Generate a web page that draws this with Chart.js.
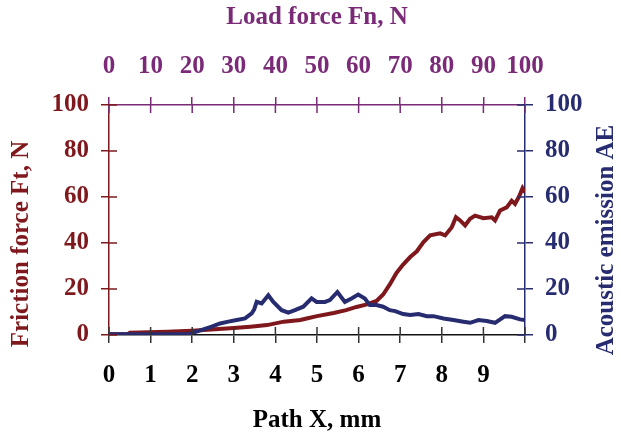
<!DOCTYPE html>
<html lang="en">
<head>
  <meta charset="UTF-8">
  <title>Friction force and acoustic emission</title>
  <script src="https://cdn.jsdelivr.net/npm/chart.js"></script>
  <style>
    html, body { margin: 0; padding: 0; background: #fff; }
    #wrap { width: 621px; height: 439px; }
  </style>
</head>
<body>
  <div id="wrap"><canvas id="frictionChart" width="621" height="439"></canvas></div>

  <script>
    // path X, mm -> friction force Ft, N
    const pathX = [0, 0.45, 0.5, 1.4, 2.0, 2.55, 3.0, 3.4, 3.8, 4.2, 4.6, 4.75, 5.0, 5.4, 5.7, 5.95,
      6.2, 6.43, 6.59, 6.75, 6.91, 7.07, 7.24, 7.4, 7.56, 7.72, 7.96, 8.08, 8.24, 8.34, 8.44, 8.56,
      8.68, 8.8, 9.0, 9.2, 9.28, 9.4, 9.56, 9.68, 9.76, 9.86, 9.94, 10];
    const frictionFt = [0.3, 0.4, 1.0, 1.4, 1.9, 2.5, 3.0, 3.6, 4.3, 5.8, 6.5, 7.2, 8.2, 9.6, 10.8, 12.2,
      13.3, 14.8, 17.6, 22, 27, 30.6, 33.9, 36.4, 40.4, 43.3, 44.2, 43.3, 46.9, 51.2, 49.8, 47.6,
      50.5, 51.9, 50.8, 51.2, 49.8, 54.1, 55.5, 58.4, 57, 60.3, 63.8, 62];

    // path X, mm -> acoustic emission AE
    const aeX = [0, 1.9, 2.23, 2.47, 2.67, 2.87, 3.07, 3.27, 3.43, 3.49, 3.55, 3.67, 3.83, 3.95, 4.15,
      4.31, 4.47, 4.67, 4.87, 4.99, 5.19, 5.31, 5.49, 5.67, 5.83, 5.99, 6.15, 6.27, 6.43, 6.59, 6.75,
      6.88, 7.07, 7.24, 7.44, 7.64, 7.8, 8.04, 8.28, 8.52, 8.68, 8.88, 9.08, 9.28, 9.52, 9.68, 9.88, 10];
    const aeValues = [0.3, 0.3, 2.2, 3.6, 5.0, 5.8, 6.5, 7.2, 9.4, 11.1, 14.4, 13.7, 17.3, 14.4, 10.8,
      9.7, 10.8, 12.3, 15.9, 14.4, 14.4, 15.2, 18.7, 14.4, 15.9, 17.6, 15.9, 13, 13, 12.3, 10.8,
      10.4, 9.1, 8.7, 9.1, 8.2, 8.2, 7.2, 6.5, 5.8, 5.3, 6.5, 6.1, 5.3, 8.2, 7.9, 6.8, 6.5];

    const RED = '#7f181c';
    const NAVY = '#272b6f';
    const PURPLE = '#7a2a77';
    const FONT = { family: "'Liberation Serif', 'Times New Roman', serif", size: 25, weight: 'bold' };

    // tick marks cross the axis line: Chart.js draws the outer half, this draws the inner half
    const innerTicks = {
      id: 'innerTicks',
      afterDraw(chart) {
        const ctx = chart.ctx;
        const a = chart.chartArea;
        const len = 8;
        ctx.save();
        ctx.lineWidth = 1.5;
        for (const id of ['x', 'xTop', 'y', 'y2']) {
          const s = chart.scales[id];
          ctx.strokeStyle = s.options.grid.color;
          s.ticks.forEach(t => {
            const p = s.getPixelForValue(t.value);
            ctx.beginPath();
            if (id === 'x') { ctx.moveTo(p, a.bottom); ctx.lineTo(p, a.bottom - len); }
            if (id === 'xTop') { ctx.moveTo(p, a.top); ctx.lineTo(p, a.top + len); }
            if (id === 'y') { ctx.moveTo(a.left, p); ctx.lineTo(a.left + len, p); }
            if (id === 'y2') { ctx.moveTo(a.right, p); ctx.lineTo(a.right - len, p); }
            ctx.stroke();
          });
        }
        ctx.restore();
      }
    };

    // both side titles read bottom-to-top
    const sideTitles = {
      id: 'sideTitles',
      afterDraw(chart) {
        const ctx = chart.ctx;
        ctx.save();
        ctx.font = `bold ${FONT.size}px ${FONT.family}`;
        ctx.textAlign = 'center';
        ctx.textBaseline = 'middle';
        const draw = (text, x, y, color) => {
          ctx.save();
          ctx.translate(x, y);
          ctx.rotate(-Math.PI / 2);
          ctx.fillStyle = color;
          ctx.fillText(text, 0, 0);
          ctx.restore();
        };
        draw('Friction force Ft, N', 22, 244, RED);
        draw('Acoustic emission AE', 607, 240, NAVY);
        ctx.restore();
      }
    };

    new Chart(document.getElementById('frictionChart'), {
      type: 'line',
      data: {
        datasets: [
          {
            label: 'Friction force Ft, N',
            data: pathX.map((x, i) => ({ x, y: frictionFt[i] })),
            borderColor: RED,
            borderWidth: 4,
            pointRadius: 0,
            tension: 0,
            yAxisID: 'y',
            order: 1
          },
          {
            label: 'Acoustic emission AE',
            data: aeX.map((x, i) => ({ x, y: aeValues[i] })),
            borderColor: NAVY,
            borderWidth: 4,
            pointRadius: 0,
            tension: 0,
            yAxisID: 'y2',
            order: 0
          }
        ]
      },
      options: {
        responsive: false,
        animation: false,
        layout: { padding: 0 },
        plugins: { legend: { display: false }, tooltip: { enabled: false } },
        scales: {
          x: {
            type: 'linear', position: 'bottom', min: 0, max: 10,
            ticks: { stepSize: 1, color: '#000', font: FONT, padding: 18, maxRotation: 0,
              callback: v => (v === 10 ? '' : v) },
            grid: { drawOnChartArea: false, tickLength: 8, color: '#333', lineWidth: 1.5 },
            border: { color: '#111', width: 1.5 },
            title: { display: true, text: 'Path X, mm', color: '#000', font: FONT, padding: { top: 0, bottom: 3 } },
            afterFit: s => { s.height = 104; }
          },
          xTop: {
            type: 'linear', position: 'top', min: 0, max: 100,
            ticks: { stepSize: 10, color: PURPLE, font: FONT, padding: 15, maxRotation: 0 },
            grid: { drawOnChartArea: false, tickLength: 8, color: PURPLE, lineWidth: 1.5 },
            border: { color: PURPLE, width: 1.5 },
            title: { display: true, text: 'Load force Fn, N', color: PURPLE, font: FONT, padding: { top: 3, bottom: 0 } },
            afterFit: s => { s.height = 105; }
          },
          y: {
            type: 'linear', position: 'left', min: 0, max: 100,
            ticks: { stepSize: 20, color: RED, font: FONT, padding: 12 },
            grid: { drawOnChartArea: false, tickLength: 8, color: RED, lineWidth: 1.5 },
            border: { color: RED, width: 1.5 },
            afterFit: s => { s.width = 109; }
          },
          y2: {
            type: 'linear', position: 'right', min: 0, max: 100,
            ticks: { stepSize: 20, color: NAVY, font: FONT, padding: 12 },
            grid: { drawOnChartArea: false, tickLength: 8, color: NAVY, lineWidth: 1.5 },
            border: { color: NAVY, width: 1.5 },
            afterFit: s => { s.width = 96; }
          }
        }
      },
      plugins: [innerTicks, sideTitles]
    });
  </script>
</body>
</html>
